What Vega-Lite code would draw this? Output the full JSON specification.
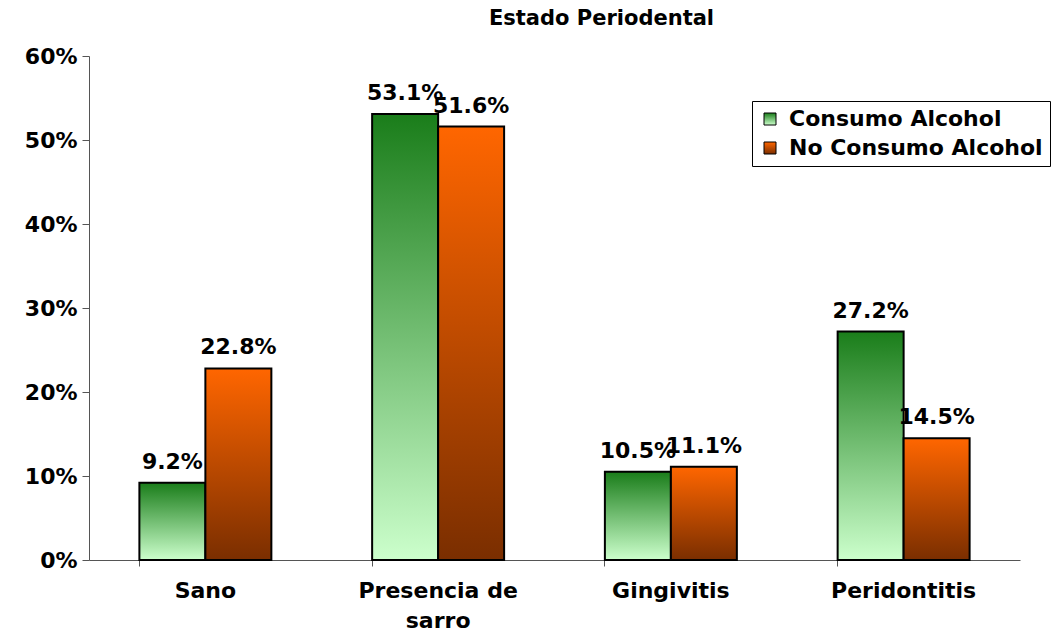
{
  "$schema": "https://vega.github.io/schema/vega-lite/v6.json",
  "autosize": {"type": "none"},
  "padding": {"left": 89, "top": 56, "right": 40, "bottom": 73},
  "width": 931,
  "height": 504,
  "background": "white",
  "title": {
    "text": "Estado Periodental",
    "font": "DejaVu Sans",
    "fontSize": 21,
    "fontWeight": "bold",
    "color": "black",
    "anchor": "middle",
    "baseline": "alphabetic",
    "dx": 47,
    "offset": -1
  },
  "data": {
    "values": [
      {"cat": "Sano", "serie": "Consumo Alcohol", "v": 0.092},
      {"cat": "Sano", "serie": "No Consumo Alcohol", "v": 0.228},
      {"cat": "Presencia de sarro", "serie": "Consumo Alcohol", "v": 0.531},
      {"cat": "Presencia de sarro", "serie": "No Consumo Alcohol", "v": 0.516},
      {"cat": "Gingivitis", "serie": "Consumo Alcohol", "v": 0.105},
      {"cat": "Gingivitis", "serie": "No Consumo Alcohol", "v": 0.111},
      {"cat": "Peridontitis", "serie": "Consumo Alcohol", "v": 0.272},
      {"cat": "Peridontitis", "serie": "No Consumo Alcohol", "v": 0.145}
    ]
  },
  "encoding": {
    "x": {
      "field": "cat",
      "type": "nominal",
      "sort": null,
      "scale": {"paddingInner": 0.433, "paddingOuter": 0.2165},
      "axis": null
    },
    "xOffset": {
      "field": "serie",
      "type": "nominal",
      "sort": null,
      "scale": {"domain": ["Consumo Alcohol", "No Consumo Alcohol"]}
    },
    "y": {
      "field": "v",
      "type": "quantitative",
      "scale": {"domain": [0, 0.6], "nice": false},
      "axis": {
        "title": null,
        "values": [0, 0.1, 0.2, 0.3, 0.4, 0.5, 0.6],
        "format": ".0%",
        "grid": false,
        "tickSize": 7,
        "tickColor": "#555555",
        "domainColor": "#555555",
        "labelFont": "DejaVu Sans",
        "labelFontWeight": "bold",
        "labelFontSize": 22,
        "labelColor": "black",
        "labelPadding": 5
      }
    }
  },
  "layer": [
    {
      "transform": [{"filter": "datum.serie == 'Consumo Alcohol'"}],
      "mark": {
        "type": "bar",
        "stroke": "black",
        "strokeWidth": 2,
        "fill": {"gradient": "linear", "x1": 0, "y1": 0, "x2": 0, "y2": 1, "stops": [{"offset": 0, "color": "#1a7d1a"}, {"offset": 1, "color": "#ccffcc"}]}
      },
      "encoding": {
        "x": {
          "field": "cat",
          "type": "nominal",
          "sort": null,
          "axis": {
            "title": null,
            "orient": "bottom",
            "ticks": false,
            "domain": false,
            "labelAngle": 0,
            "labelFont": "DejaVu Sans",
            "labelFontWeight": "bold",
            "labelFontSize": 22,
            "labelColor": "black",
            "labelPadding": 20,
            "labelLineHeight": 30,
            "labelExpr": "datum.label == 'Presencia de sarro' ? ['Presencia de', 'sarro'] : datum.label"
          }
        }
      }
    },
    {
      "transform": [{"filter": "datum.serie == 'No Consumo Alcohol'"}],
      "mark": {
        "type": "bar",
        "stroke": "black",
        "strokeWidth": 2,
        "fill": {"gradient": "linear", "x1": 0, "y1": 0, "x2": 0, "y2": 1, "stops": [{"offset": 0, "color": "#ff6600"}, {"offset": 1, "color": "#7a2e00"}]}
      },
      "encoding": {}
    },
    {
      "mark": {"type": "point", "filled": true, "opacity": 0, "size": 1},
      "encoding": {
        "shape": {
          "field": "serie",
          "type": "nominal",
          "sort": null,
          "scale": {
            "domain": ["Consumo Alcohol", "No Consumo Alcohol"],
            "range": ["square", "square"]
          },
          "legend": {
            "title": null,
            "orient": "none",
            "legendX": 663,
            "legendY": 45,
            "padding": 7,
            "strokeColor": "black",
            "fillColor": "white",
            "symbolType": "square",
            "symbolSize": 144,
            "symbolStrokeColor": "black",
            "symbolStrokeWidth": 1,
            "symbolOpacity": 1,
            "labelFont": "DejaVu Sans",
            "labelFontWeight": "bold",
            "labelFontSize": 22,
            "labelColor": "black",
            "labelLimit": 400,
            "rowPadding": 7,
            "labelOffset": 8,
            "encoding": {
              "symbols": {
                "opacity": {"value": 1},
                "stroke": {"value": "black"},
                "strokeWidth": {"value": 1},
                "size": {"value": 144},
                "fill": {
                  "condition": {"test": "datum.value == 'Consumo Alcohol'", "value": {"gradient": "linear", "x1": 0, "y1": 0, "x2": 0, "y2": 1, "stops": [{"offset": 0, "color": "#1a7d1a"}, {"offset": 1, "color": "#ccffcc"}]}},
                  "value": {"gradient": "linear", "x1": 0, "y1": 0, "x2": 0, "y2": 1, "stops": [{"offset": 0, "color": "#ff6600"}, {"offset": 1, "color": "#7a2e00"}]}
                }
              }
            }
          }
        }
      }
    },
    {
      "mark": {"type": "text", "baseline": "bottom", "dy": -9, "font": "DejaVu Sans", "fontWeight": "bold", "fontSize": 22, "color": "black"},
      "encoding": {
        "x": {
          "field": "cat",
          "type": "nominal",
          "sort": null,
          "axis": {
            "title": null,
            "orient": "bottom",
            "labels": false,
            "bandPosition": 0,
            "tickSize": 6,
            "tickColor": "#555555",
            "domainColor": "#555555"
          }
        },
        "text": {"field": "v", "type": "quantitative", "format": ".1%"}
      }
    }
  ],
  "resolve": {"axis": {"x": "independent"}},
  "config": {"view": {"stroke": null}}
}
